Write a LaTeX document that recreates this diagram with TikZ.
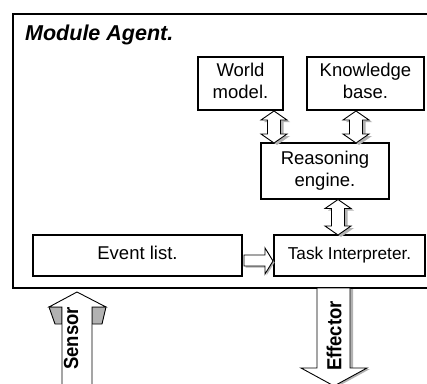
\documentclass[tikz,border=0pt]{standalone}
\usepackage{fontspec}
\setmainfont{Liberation Sans}
\usetikzlibrary{shadows}
\newcommand\hstr[2]{\scalebox{#1}[1]{\begin{tabular}{@{}c@{}}#2\end{tabular}}}
\newcommand\vdarrow[3]{%
  \fill[gray!60,shift={(3,2)}] (#1,#2) -- (#1+13,#2+9) -- (#1+6.5,#2+9) -- (#1+6.5,#3-9) -- (#1+13,#3-9) -- (#1,#3) -- (#1-13,#3-9) -- (#1-6.5,#3-9) -- (#1-6.5,#2+9) -- (#1-13,#2+9) -- cycle;
  \draw[blockarrow] (#1,#2) -- (#1+13,#2+9) -- (#1+6.5,#2+9) -- (#1+6.5,#3-9) -- (#1+13,#3-9) -- (#1,#3) -- (#1-13,#3-9) -- (#1-6.5,#3-9) -- (#1-6.5,#2+9) -- (#1-13,#2+9) -- cycle;}
\begin{document}
\begin{tikzpicture}[x=1pt,y=-1pt,
  box/.style={draw, line width=1.1pt, fill=white, inner sep=0pt,
    drop shadow={shadow xshift=1.2pt, shadow yshift=-1.2pt, fill=black, opacity=1},
    font=\fontsize{18.5}{22}\selectfont},
  blockarrow/.style={draw, line width=0.9pt, fill=white, line join=miter},
  shade3d/.style={draw, line width=0.9pt, fill=gray!60},
  vlabel/.style={rotate=90, inner sep=0pt, font=\fontsize{18.5}{18.5}\selectfont\bfseries}]
\useasboundingbox (0,0) rectangle (427,383);
\clip (0,0) rectangle (427,383);
% outer module
\node[draw, line width=1.5pt, fill=white, inner sep=0pt, minimum width=428pt, minimum height=274pt,
  anchor=north west,
  drop shadow={shadow xshift=0.8pt, shadow yshift=-0.8pt, fill=black, opacity=1}] (agent) at (12,13) {};
\node[anchor=base west, inner sep=0pt, font=\fontsize{21.5}{22}\selectfont\bfseries\itshape] (title) at (25,40) {Module Agent.};
% boxes
\node[box, minimum width=85pt, minimum height=53pt] (wm) at (240.5,83.5) {\hstr{1}{World\\model.}};
\node[box, minimum width=117pt, minimum height=53pt] (kb) at (365.5,83.5) {\hstr{1}{Knowledge\\base.}};
\node[box, minimum width=128pt, minimum height=56pt] (re) at (325,171) {\hstr{1}{Reasoning\\engine.}};
\node[box, minimum width=209pt, minimum height=41pt] (el) at (137.5,255.5) {\hstr{1}{Event list.}};
\node[box, minimum width=151pt, minimum height=41pt, font=\fontsize{17.2}{20}\selectfont] (ti) at (349.5,255.5) {\hstr{1}{Task Interpreter.}};
% double arrows
\vdarrow{274}{111}{143}
\vdarrow{356}{111}{143}
\vdarrow{338}{199.5}{235}
% event list -> task interpreter
\fill[gray!60,shift={(1.5,1.5)}] (244,255) -- (265,255) -- (265,248) -- (273,261) -- (265,274) -- (265,266) -- (244,266) -- cycle;
\draw[blockarrow] (244,255) -- (265,255) -- (265,248) -- (273,261) -- (265,274) -- (265,266) -- (244,266) -- cycle;
% sensor arrow
\draw[shade3d] (49,307) -- (62,307) -- (62,324) -- (55,324) -- cycle;
\draw[shade3d] (92,307) -- (106,307) -- (102,324) -- (92,324) -- cycle;
\draw[blockarrow] (77,292) -- (106,307) -- (92,307) -- (92,395) -- (62,395) -- (62,307) -- (49,307) -- cycle;
\node[vlabel] (sensor) at (71,338.5) {\scalebox{1}[1.1]{Sensor}};
% effector arrow
\fill[gray!60,shift={(3,1)}] (317,288) -- (350,288) -- (350,368) -- (367,368) -- (334,386) -- (301,368) -- (317,368) -- cycle;
\draw[blockarrow] (317,288) -- (350,288) -- (350,368) -- (367,368) -- (334,386) -- (301,368) -- (317,368) -- cycle;
\node[vlabel] (effector) at (334,336) {\scalebox{1}[1.1]{Effector}};
\end{tikzpicture}
\end{document}
